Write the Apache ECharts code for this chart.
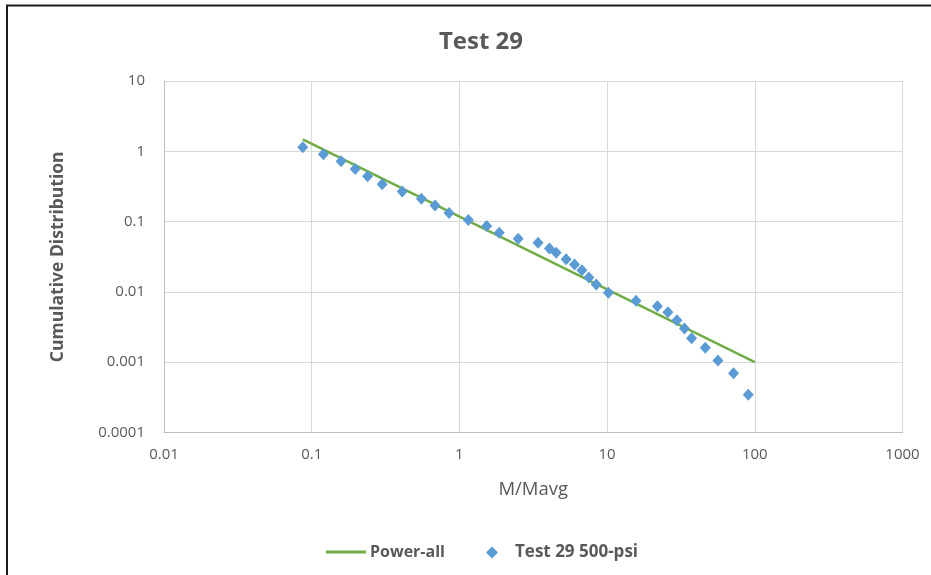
<!DOCTYPE html>
<html>
<head>
<meta charset="utf-8">
<title>Test 29</title>
<script src="https://cdn.jsdelivr.net/npm/echarts@6/dist/echarts.min.js"></script>
<style>
  html, body { margin: 0; padding: 0; background: #ffffff; }
  #chart { width: 931px; height: 575px; }
</style>
</head>
<body>
<div id="chart"></div>
<script>
// Measured mass ratio (M/Mavg) and cumulative distribution, Test 29 at 500 psi
const massRatio = [
  0.087, 0.12, 0.158, 0.197, 0.239, 0.30, 0.41, 0.553, 0.684, 0.851, 1.15,
  1.53, 1.86, 2.50, 3.41, 4.07, 4.52, 5.28, 6.02, 6.75, 7.53, 8.44, 10.2,
  15.7, 21.9, 25.8, 29.7, 33.4, 37.3, 46.2, 56.3, 71.8, 90.3
];
const cumulative = [
  1.14, 0.906, 0.72, 0.56, 0.44, 0.339, 0.267, 0.212, 0.169, 0.132, 0.105,
  0.0863, 0.0695, 0.0571, 0.050, 0.0415, 0.0361, 0.0292, 0.0246, 0.0204, 0.016, 0.0127, 0.0097,
  0.0075, 0.00625, 0.00514, 0.00395, 0.00301, 0.00219, 0.00161, 0.00106, 0.000695, 0.000345
];

// Power-law fit over all points, drawn between its end points
const fitX = [0.087, 100];
const fitY = [1.48, 0.001];

const xTickLabels = ['0.01', '0.1', '1', '10', '100', '1000'];
const yTickLabels = ['0.0001', '0.001', '0.01', '0.1', '1', '10'];

const FONT = '"Open Sans", Lato, sans-serif';
const GREY = '#595959';

const scatterData = massRatio.map((x, i) => [x, cumulative[i]]);
const fitData = fitX.map((x, i) => [x, fitY[i]]);

const chart = echarts.init(document.getElementById('chart'), null, { renderer: 'canvas' });

chart.setOption({
  backgroundColor: '#ffffff',
  animation: false,
  title: {
    text: 'Test 29',
    left: 476,
    top: 25,
    textAlign: 'center',
    textStyle: { fontFamily: FONT, fontSize: 24, fontWeight: 'bold', color: GREY }
  },
  graphic: [{
    type: 'rect',
    shape: { x: 7, y: 5.5, width: 940, height: 590 },
    style: { fill: 'none', stroke: '#1a1a1a', lineWidth: 2 },
    silent: true
  }],
  legend: [{
    data: [{ name: 'Power-all', icon: 'rect' }],
    left: 321,
    top: 539,
    itemWidth: 40,
    itemHeight: 3,
    itemGap: 4,
    textStyle: { fontFamily: FONT, fontSize: 16, fontWeight: 'bold', color: GREY, padding: [0, 0, 0, -1] }
  }, {
    data: ['Test 29 500-psi'],
    left: 481,
    top: 539,
    itemWidth: 12,
    itemHeight: 12,
    textStyle: { fontFamily: FONT, fontSize: 17, fontWeight: 'bold', color: GREY, padding: [0, 0, 0, 12] }
  }],
  grid: {
    left: 164,
    top: 81,
    width: 738.5,
    height: 351.5,
    containLabel: false
  },
  xAxis: {
    type: 'log',
    logBase: 10,
    min: 0.01,
    max: 1000,
    name: 'M/Mavg',
    nameLocation: 'middle',
    nameGap: 48,
    nameTextStyle: { fontFamily: FONT, fontSize: 18.5, color: GREY },
    axisLine: { show: true, lineStyle: { color: '#bfbfbf', width: 1 } },
    axisTick: { show: false },
    splitLine: { show: true, lineStyle: { color: '#d9d9d9', width: 1 } },
    axisLabel: {
      margin: 15,
      fontFamily: FONT,
      fontSize: 15,
      color: GREY,
      formatter: v => xTickLabels[Math.round(Math.log10(v)) + 2]
    }
  },
  yAxis: {
    type: 'log',
    logBase: 10,
    min: 0.0001,
    max: 10,
    name: 'Cumulative Distribution',
    nameLocation: 'middle',
    nameGap: 97,
    nameTextStyle: { fontFamily: FONT, fontSize: 17.5, fontWeight: 'bold', color: GREY },
    axisLine: { show: true, lineStyle: { color: '#bfbfbf', width: 1 } },
    axisTick: { show: false },
    splitLine: { show: true, lineStyle: { color: '#d9d9d9', width: 1 } },
    axisLabel: {
      margin: 19,
      fontFamily: FONT,
      fontSize: 15,
      color: GREY,
      formatter: v => yTickLabels[Math.round(Math.log10(v)) + 4]
    }
  },
  series: [{
    name: 'Power-all',
    type: 'line',
    data: fitData,
    symbol: 'none',
    lineStyle: { color: '#70ad47', width: 2.5 },
    itemStyle: { color: '#70ad47' },
    z: 3
  }, {
    name: 'Test 29 500-psi',
    type: 'scatter',
    data: scatterData,
    symbol: 'diamond',
    symbolSize: [11, 12],
    itemStyle: { color: '#5b9bd5', opacity: 1 },
    z: 4
  }]
});
</script>
</body>
</html>
